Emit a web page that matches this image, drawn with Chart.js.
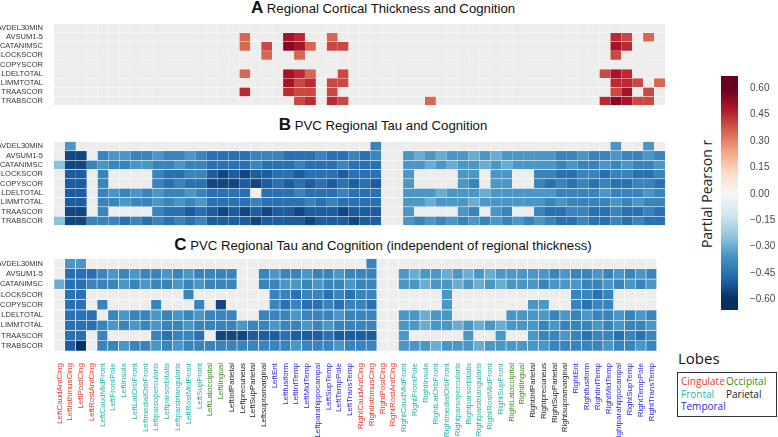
<!DOCTYPE html>
<html>
<head>
<meta charset="utf-8">
<script src="https://cdn.jsdelivr.net/npm/chart.js@4.4.1/dist/chart.umd.min.js"></script>
<style>
  html, body { margin: 0; padding: 0; background: #fff; }
  body { width: 778px; height: 437px; position: relative; overflow: hidden; font-family: 'Liberation Sans', Arial, sans-serif; }
  canvas { position: absolute; }
  .title { position: absolute; left: 0; width: 766px; text-align: center; font-size: 13.2px; color: #111; white-space: nowrap; line-height: 16px; }
  .title b { font-size: 17px; }
  #cbTitle { position: absolute; left: 706px; top: 194px; transform: translate(-50%, -50%) rotate(-90deg); font-size: 14px; color: #222; white-space: nowrap; font-family: 'Open Sans', sans-serif; }
  #lobesTitle { position: absolute; left: 678px; top: 348px; font-size: 15px; color: #111; font-family: 'Open Sans', sans-serif; }
  #lobes { position: absolute; left: 677px; top: 372px; width: 100px; height: 45px; border: 1px solid #333; font-family: 'Open Sans', sans-serif; font-size: 10px; line-height: 12.5px; box-sizing: border-box; padding: 2px 0 0 3px; }
  #lobes span { display: inline-block; width: 45px; }
</style>
</head>
<body>
<div class="title" style="top:0px"><b>A</b> Regional Cortical Thickness and Cognition</div>
<div class="title" style="top:117px"><b>B</b> PVC Regional Tau and Cognition</div>
<div class="title" style="top:237px"><b>C</b> PVC Regional Tau and Cognition (independent of regional thickness)</div>
<canvas id="panelA" width="665" height="97" style="left:0;top:16px"></canvas>
<canvas id="panelB" width="665" height="99" style="left:0;top:134px"></canvas>
<canvas id="panelC" width="665" height="186" style="left:0;top:251px"></canvas>
<canvas id="colorbar" width="58" height="254" style="left:721px;top:66px"></canvas>
<div id="cbTitle">Partial Pearson r</div>
<div id="lobesTitle">Lobes</div>
<div id="lobes">
  <span style="color:#e8382f">Cingulate</span><span style="color:#3a8a22">Occipital</span><br>
  <span style="color:#22b5b0">Frontal</span><span style="color:#222">Parietal</span><br>
  <span style="color:#2a2ad8">Temporal</span>
</div>
<script>
const measures = ['AVDEL30MIN', 'AVSUM1-5', 'CATANIMSC', 'CLOCKSCOR', 'COPYSCOR', 'LDELTOTAL', 'LIMMTOTAL', 'TRAASCOR', 'TRABSCOR'];

const leftRegions = [
  'LeftCaudAntCing', 'LeftIsthmusCing', 'LeftPostCing', 'LeftRostAntCing',
  'LeftCaudMidFront', 'LeftFrontPole', 'LeftInsula', 'LeftLatOrbFront', 'LeftmedialOrbFront',
  'Leftparsopercularis', 'Leftparsorbitalis', 'Leftparstriangularis', 'LeftRostMidFront', 'LeftSupFront',
  'LeftLatoccipital', 'Leftlingual',
  'LeftInfParietal', 'Leftprecuneus', 'LeftSupParietal', 'Leftsupramarginal',
  'LeftEnt', 'Leftfusiform', 'LeftInfTemp', 'LeftMidTemp', 'Leftparahippocampal', 'LeftSupTemp', 'LeftTempPole', 'LeftTransTemp'
];
const rightRegions = [
  'RightCaudAntCing', 'RightIsthmusCing', 'RightPostCing', 'RightRostAntCing',
  'RightCaudMidFront', 'RightFrontPole', 'RightInsula', 'RightLatOrbFront', 'RightmedialOrbFront',
  'Rightparsopercularis', 'Rightparsorbitalis', 'Rightparstriangularis', 'RightRostMidFront', 'RightSupFront',
  'RightLatoccipital', 'Rightlingual',
  'RightInfParietal', 'Rightprecuneus', 'RightSupParietal', 'Rightsupramarginal',
  'RightEnt', 'Rightfusiform', 'RightInfTemp', 'RightMidTemp', 'Rightparahippocampal', 'RightSupTemp', 'RightTempPole', 'RightTransTemp'
];
const regions = [...leftRegions, ...rightRegions];
const lobeCounts = [['Cingulate', 4], ['Frontal', 10], ['Occipital', 2], ['Parietal', 4], ['Temporal', 8]];

// partial r; one char per region, grouped by lobe
// '.' = not shown, 1..9 = -0.20 .. -0.60, a..h = 0.20 .. 0.55
const rCodes = {
  '1': -0.20, '2': -0.25, '3': -0.30, '4': -0.35, '5': -0.40, '6': -0.45, '7': -0.50, '8': -0.55, '9': -0.60,
  a: 0.20, b: 0.25, c: 0.30, d: 0.35, e: 0.40, f: 0.45, g: 0.50, h: 0.55
};

const thicknessRows = [
  '.... .......... .. .... ........ .... .......... .. .... ........',
  '.... .......... .. .d.. .gf..d.. .... .......... .. .... ...fe.d.',
  '.... .......... .. .d.e .hgd.ee. .... .......... .. .... ...gf...',
  '.... .......... .. ...d ..d..... .... .......... .. .... ...e....',
  '.... .......... .. .... ........ .... .......... .. .... ........',
  '.... .......... .. .d.. .gfd..e. .... .......... .. .... ..egf...',
  '.... .......... .. .... .gef.ee. .... .......... .. .... ...ffe.d',
  '.... .......... .. .f.. .fee.e.. .... .......... .. .... ...eg.e.',
  '.... .......... .. .... ..ef.fe. .... ..d....... .. .... ..fhgee.'
];

const tauRows = [
  '.4.. .......... .. .... ........ .5.. .......... .. .... ...4..4.',
  '.88. 5445545545 66 6655 56665665 65.. 4343443434 44 4455 45545545',
  '2885 4554455455 66 6656 66566656 66.. 4434344343 44 4454 55454554',
  '.77. 5....56655 78 7877 66766676 66.. 4....44.44 .. 5566 55655665',
  '.77. 5....56566 88 8787 67676767 67.. 4....45.44 .. 5656 56566556',
  '.77. 5454545545 66 66.6 66566656 66.. 4443444344 44 4455 55455545',
  '.77. 5545545454 66 6656 66656566 66.. 4434443444 44 4545 55545455',
  '.88. 5....56676 78 7878 77877787 77.. 4....45.45 .. 5665 56656656',
  '2885 5565656565 77 7787 77787778 77.. 4545454545 45 4566 56656566'
];

const tauIndepRows = [
  '.44. .......... .. .... ........ .5.. .......... .. .... ........',
  '.666 5454554545 55 5..5 45545545 55.. 4344343434 44 4454 55454545',
  '3665 5545455454 55 5..5 54454554 55.. 4434434343 44 4544 45545454',
  '.66. ........5. .. .... 55655656 55.. ....4..... .. .... 5565....',
  '.66. 5....5...5 .8 .... 56566565 56.. ....4..... .. 44.. 5655....',
  '.666 .545545454 55 5..5 55455545 55.. 44344..... 44 4454 54554545',
  '.666 5454545545 55 5455 45545455 55.. 4434434343 44 4545 55454554',
  '.66. 5....56556 .8 8877 76777677 77.. 4.....4..4 .. 4554 56556565',
  '.79. 5545545455 55 5555 55455545 55.. 4443444344 44 4455 55545545'
];

const cbTicks = [0.6, 0.45, 0.3, 0.15, 0, -0.15, -0.3, -0.45, -0.6];
const cbMin = -0.66, cbMax = 0.67;

const lobeColors = { Cingulate: '#e5392f', Frontal: '#26b3ad', Occipital: '#3e8a25', Parietal: '#1e1e1e', Temporal: '#2b2bd4' };
const rdbu = ['#053061', '#2166ac', '#4393c3', '#92c5de', '#d1e5f0', '#f7f7f7', '#fddbc7', '#f4a582', '#d6604d', '#b2182b', '#67001f'];
const naColor = '#ededed';

const regionLobes = [];
[0, 1].forEach(() => lobeCounts.forEach(([lobe, n]) => { for (let i = 0; i < n; i++) regionLobes.push(lobe); }));

function hexToRgb(h) {
  return [1, 3, 5].map((i) => parseInt(h.slice(i, i + 2), 16));
}

function rColor(v) {
  const t = Math.min(1, Math.max(0, (v + 0.6) / 1.2)) * (rdbu.length - 1);
  const i = Math.min(rdbu.length - 2, Math.floor(t));
  const f = t - i;
  const a = hexToRgb(rdbu[i]), b = hexToRgb(rdbu[i + 1]);
  const c = a.map((x, k) => Math.round(x + (b[k] - x) * f));
  return `rgb(${c[0]},${c[1]},${c[2]})`;
}

function decodeRow(row) {
  return row.replace(/ /g, '').split('').map((ch) => (ch === '.' ? null : rCodes[ch]));
}

const sans = "'Liberation Sans', Arial, sans-serif";

function heatmap(id, rows, showLabels, cellBorder) {
  const matrix = rows.map(decodeRow);
  const datasets = measures.map((m, r) => ({
    label: m,
    data: regions.map(() => [r, r + 1]),
    backgroundColor: matrix[r].map((v) => (v === null ? naColor : rColor(v))),
    borderColor: 'rgba(255,255,255,0.85)',
    borderWidth: cellBorder,
    borderSkipped: false,
    grouped: false,
    barPercentage: 1,
    categoryPercentage: 1
  }));
  return new Chart(document.getElementById(id), {
    type: 'bar',
    data: { labels: regions, datasets },
    options: {
      responsive: false,
      animation: false,
      layout: { padding: 0 },
      plugins: { legend: { display: false }, tooltip: { enabled: false } },
      scales: {
        x: {
          display: showLabels,
          grid: { display: false },
          border: { display: false },
          afterFit: (s) => { if (showLabels) s.height = 86; },
          ticks: {
            autoSkip: false,
            minRotation: 90,
            maxRotation: 90,
            padding: 4,
            font: { family: sans, size: 8 },
            color: (ctx) => lobeColors[regionLobes[ctx.index]]
          }
        },
        y: {
          min: 0,
          max: measures.length,
          reverse: true,
          grid: { display: false },
          border: { display: false },
          afterFit: (s) => { s.width = 54; },
          afterBuildTicks: (s) => { s.ticks = measures.map((_, i) => ({ value: i + 0.5 })); },
          ticks: {
            autoSkip: false,
            font: { family: sans, size: 7.5 },
            color: '#333',
            padding: 3,
            callback: (v) => measures[Math.floor(v)]
          }
        }
      }
    }
  });
}

heatmap('panelA', thicknessRows, false, { top: 0.5, bottom: 0.5, left: 0, right: 0 });
heatmap('panelB', tauRows, false, { top: 0.6, bottom: 0.6, left: 0, right: 0 });
heatmap('panelC', tauIndepRows, true, 0.6);

new Chart(document.getElementById('colorbar'), {
  type: 'bar',
  data: {
    labels: [''],
    datasets: [{
      data: [[cbMin, cbMax]],
      barPercentage: 1,
      categoryPercentage: 1,
      backgroundColor: (ctx) => {
        const chart = ctx.chart;
        const y = chart.scales.y;
        if (!chart.chartArea || !y) return rdbu[5];
        const g = chart.ctx.createLinearGradient(0, y.getPixelForValue(-0.6), 0, y.getPixelForValue(0.6));
        rdbu.forEach((c, i) => g.addColorStop(i / (rdbu.length - 1), c));
        return g;
      }
    }]
  },
  options: {
    responsive: false,
    animation: false,
    layout: { padding: 0 },
    plugins: { legend: { display: false }, tooltip: { enabled: false } },
    scales: {
      x: { display: false },
      y: {
        position: 'right',
        min: cbMin,
        max: cbMax,
        grid: { display: false },
        border: { display: false },
        afterFit: (s) => { s.width = 41; },
        afterBuildTicks: (s) => { s.ticks = cbTicks.map((v) => ({ value: v })); },
        ticks: {
          font: { family: sans, size: 10 },
          color: '#4a4a4a',
          padding: 4,
          callback: (v) => (v < 0 ? '\u2212' : '') + Math.abs(v).toFixed(2)
        }
      }
    }
  }
});
</script>
</body>
</html>
